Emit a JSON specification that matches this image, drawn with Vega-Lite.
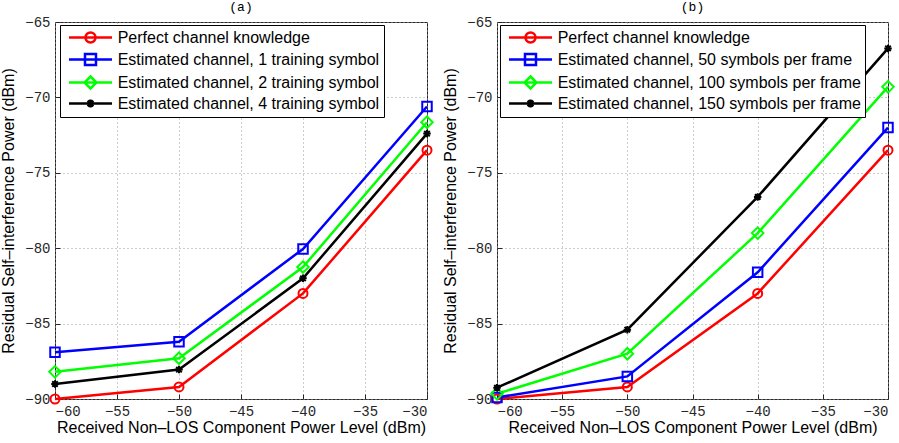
{
  "$schema": "https://vega.github.io/schema/vega-lite/v6.json",
  "background": "white",
  "padding": {"left": 0, "top": 0, "right": 2, "bottom": 2},
  "spacing": 70,
  "bounds": "flush",
  "datasets": {
    "a": [
      {"series": "Perfect channel knowledge", "x": -60, "y": -90.0},
      {"series": "Perfect channel knowledge", "x": -50, "y": -89.2},
      {"series": "Perfect channel knowledge", "x": -40, "y": -83.0},
      {"series": "Perfect channel knowledge", "x": -30, "y": -73.5},
      {"series": "Estimated channel, 1 training symbol", "x": -60, "y": -86.9},
      {"series": "Estimated channel, 1 training symbol", "x": -50, "y": -86.2},
      {"series": "Estimated channel, 1 training symbol", "x": -40, "y": -80.05},
      {"series": "Estimated channel, 1 training symbol", "x": -30, "y": -70.6},
      {"series": "Estimated channel, 2 training symbol", "x": -60, "y": -88.2},
      {"series": "Estimated channel, 2 training symbol", "x": -50, "y": -87.3},
      {"series": "Estimated channel, 2 training symbol", "x": -40, "y": -81.25},
      {"series": "Estimated channel, 2 training symbol", "x": -30, "y": -71.65},
      {"series": "Estimated channel, 4 training symbol", "x": -60, "y": -89.0},
      {"series": "Estimated channel, 4 training symbol", "x": -50, "y": -88.05},
      {"series": "Estimated channel, 4 training symbol", "x": -40, "y": -82.0},
      {"series": "Estimated channel, 4 training symbol", "x": -30, "y": -72.4}
    ],
    "b": [
      {"series": "Perfect channel knowledge", "x": -60, "y": -90.0},
      {"series": "Perfect channel knowledge", "x": -50, "y": -89.2},
      {"series": "Perfect channel knowledge", "x": -40, "y": -83.0},
      {"series": "Perfect channel knowledge", "x": -30, "y": -73.5},
      {"series": "Estimated channel, 50 symbols per frame", "x": -60, "y": -89.9},
      {"series": "Estimated channel, 50 symbols per frame", "x": -50, "y": -88.5},
      {"series": "Estimated channel, 50 symbols per frame", "x": -40, "y": -81.6},
      {"series": "Estimated channel, 50 symbols per frame", "x": -30, "y": -72.0},
      {"series": "Estimated channel, 100 symbols per frame", "x": -60, "y": -89.65},
      {"series": "Estimated channel, 100 symbols per frame", "x": -50, "y": -87.0},
      {"series": "Estimated channel, 100 symbols per frame", "x": -40, "y": -79.0},
      {"series": "Estimated channel, 100 symbols per frame", "x": -30, "y": -69.3},
      {"series": "Estimated channel, 150 symbols per frame", "x": -60, "y": -89.25},
      {"series": "Estimated channel, 150 symbols per frame", "x": -50, "y": -85.4},
      {"series": "Estimated channel, 150 symbols per frame", "x": -40, "y": -76.6},
      {"series": "Estimated channel, 150 symbols per frame", "x": -30, "y": -66.75}
    ]
  },
  "config": {
    "view": {"stroke": "#262626", "strokeWidth": 1},
    "axis": {
      "grid": true,
      "gridDash": [1, 3],
      "gridColor": "#9a9a9a",
      "gridWidth": 1,
      "domain": false,
      "ticks": true,
      "tickSize": -5,
      "tickColor": "#262626",
      "labelFont": "Liberation Mono",
      "labelFontSize": 14,
      "labelColor": "#262626",
      "titleFont": "Liberation Sans",
      "titleFontSize": 16,
      "titleFontWeight": "normal",
      "titleColor": "#000000"
    },
    "title": {"font": "Liberation Mono", "fontSize": 13, "fontWeight": "normal", "color": "#000000", "offset": 1},
    "legend": {
      "orient": "none",
      "title": null,
      "strokeColor": "#000000",
      "fillColor": "#ffffff",
      "padding": 4,
      "cornerRadius": 0,
      "labelFont": "Liberation Sans",
      "labelFontSize": 16,
      "labelColor": "#000000",
      "labelLimit": 400,
      "labelOffset": 36.7,
      "rowPadding": 0,
      "symbolSize": 196,
      "symbolStrokeWidth": 2.5
    }
  },
  "resolve": {
    "scale": {"color": "independent", "x": "independent", "y": "independent"},
    "legend": {"color": "independent"}
  },
  "hconcat": [
    {
      "title": "(a)",
      "width": 372,
      "height": 377,
      "data": {"name": "a"},
      "encoding": {
        "x": {"field": "x", "type": "quantitative",
          "scale": {"domain": [-60, -30], "nice": false, "zero": false},
          "axis": {"values": [-60, -55, -50, -45, -40, -35, -30], "title": "Received Non–LOS Component Power Level (dBm)", "labelPadding": 10, "titlePadding": 1}},
        "y": {"field": "y", "type": "quantitative",
          "scale": {"domain": [-90, -65], "nice": false, "zero": false},
          "axis": {"values": [-90, -85, -80, -75, -70, -65], "title": "Residual Self–interference Power (dBm)", "labelPadding": 10, "titlePadding": 8}},
        "color": {"field": "series", "type": "nominal",
          "scale": {"domain": ["Perfect channel knowledge", "Estimated channel, 1 training symbol", "Estimated channel, 2 training symbol", "Estimated channel, 4 training symbol"],
                    "range": ["#ff0000", "#0000ff", "#00ff00", "#000000"]},
          "legend": {"legendX": 5, "legendY": 3,
            "encode": {"symbols": {"update": {
              "shape": {"signal": "indexof(datum.value,'Perfect')>=0 ? 'M-0.5,0H5.64M3.284,0A0.714,0.714 0 1,1 1.856,0A0.714,0.714 0 1,1 3.284,0Z' : (indexof(datum.value,' 1 training')>=0 ? 'M-0.5,0H5.64M1.784,-0.786H3.356V0.786H1.784Z' : (indexof(datum.value,' 2 training')>=0 ? 'M-0.5,0H5.64M2.57,-0.857L3.427,0L2.57,0.857L1.713,0Z' : 'M-0.5,0H5.64M2.57,-0.57V0.57M2.17,-0.4L2.97,0.4M2.17,0.4L2.97,-0.4'))"},
              "fill": {"value": "transparent"},
              "strokeWidth": {"value": 2.5},
              "opacity": {"value": 1}
            }}}}}
      },
      "layer": [
        {"mark": {"type": "line", "strokeWidth": 2.5}},
        {"transform": [{"filter": "datum.series === 'Perfect channel knowledge'"}],
         "mark": {"type": "point", "filled": false, "strokeWidth": 2, "opacity": 1, "size": 100, "shape": "M0.9,0A0.9,0.9 0 1,1 -0.9,0A0.9,0.9 0 1,1 0.9,0Z"}},
        {"transform": [{"filter": "datum.series === 'Estimated channel, 1 training symbol'"}],
         "mark": {"type": "point", "filled": false, "strokeWidth": 2, "opacity": 1, "size": 100, "shape": "M-0.95,-0.95H0.95V0.95H-0.95Z"}},
        {"transform": [{"filter": "datum.series === 'Estimated channel, 2 training symbol'"}],
         "mark": {"type": "point", "filled": false, "strokeWidth": 2, "opacity": 1, "size": 100, "shape": "M0,-1.15L1.15,0L0,1.15L-1.15,0Z"}},
        {"transform": [{"filter": "datum.series === 'Estimated channel, 4 training symbol'"}],
         "mark": {"type": "point", "filled": false, "strokeWidth": 2, "opacity": 1, "size": 100, "shape": "M-0.75,0H0.75M0,-0.75V0.75M-0.55,-0.55L0.55,0.55M-0.55,0.55L0.55,-0.55"}}
      ]
    },
    {
      "title": "(b)",
      "width": 391,
      "height": 377,
      "data": {"name": "b"},
      "encoding": {
        "x": {"field": "x", "type": "quantitative",
          "scale": {"domain": [-60, -30], "nice": false, "zero": false},
          "axis": {"values": [-60, -55, -50, -45, -40, -35, -30], "title": "Received Non–LOS Component Power Level (dBm)", "labelPadding": 10, "titlePadding": 1}},
        "y": {"field": "y", "type": "quantitative",
          "scale": {"domain": [-90, -65], "nice": false, "zero": false},
          "axis": {"values": [-90, -85, -80, -75, -70, -65], "title": "Residual Self–interference Power (dBm)", "labelPadding": 10, "titlePadding": 8}},
        "color": {"field": "series", "type": "nominal",
          "scale": {"domain": ["Perfect channel knowledge", "Estimated channel, 50 symbols per frame", "Estimated channel, 100 symbols per frame", "Estimated channel, 150 symbols per frame"],
                    "range": ["#ff0000", "#0000ff", "#00ff00", "#000000"]},
          "legend": {"legendX": 3, "legendY": 3,
            "encode": {"symbols": {"update": {
              "shape": {"signal": "indexof(datum.value,'Perfect')>=0 ? 'M-0.5,0H5.64M3.284,0A0.714,0.714 0 1,1 1.856,0A0.714,0.714 0 1,1 3.284,0Z' : (indexof(datum.value,' 50 ')>=0 ? 'M-0.5,0H5.64M1.784,-0.786H3.356V0.786H1.784Z' : (indexof(datum.value,' 100 ')>=0 ? 'M-0.5,0H5.64M2.57,-0.857L3.427,0L2.57,0.857L1.713,0Z' : 'M-0.5,0H5.64M2.57,-0.57V0.57M2.17,-0.4L2.97,0.4M2.17,0.4L2.97,-0.4'))"},
              "fill": {"value": "transparent"},
              "strokeWidth": {"value": 2.5},
              "opacity": {"value": 1}
            }}}}}
      },
      "layer": [
        {"mark": {"type": "line", "strokeWidth": 2.5}},
        {"transform": [{"filter": "datum.series === 'Perfect channel knowledge'"}],
         "mark": {"type": "point", "filled": false, "strokeWidth": 2, "opacity": 1, "size": 100, "shape": "M0.9,0A0.9,0.9 0 1,1 -0.9,0A0.9,0.9 0 1,1 0.9,0Z"}},
        {"transform": [{"filter": "datum.series === 'Estimated channel, 50 symbols per frame'"}],
         "mark": {"type": "point", "filled": false, "strokeWidth": 2, "opacity": 1, "size": 100, "shape": "M-0.95,-0.95H0.95V0.95H-0.95Z"}},
        {"transform": [{"filter": "datum.series === 'Estimated channel, 100 symbols per frame'"}],
         "mark": {"type": "point", "filled": false, "strokeWidth": 2, "opacity": 1, "size": 100, "shape": "M0,-1.15L1.15,0L0,1.15L-1.15,0Z"}},
        {"transform": [{"filter": "datum.series === 'Estimated channel, 150 symbols per frame'"}],
         "mark": {"type": "point", "filled": false, "strokeWidth": 2, "opacity": 1, "size": 100, "shape": "M-0.75,0H0.75M0,-0.75V0.75M-0.55,-0.55L0.55,0.55M-0.55,0.55L0.55,-0.55"}}
      ]
    }
  ]
}
